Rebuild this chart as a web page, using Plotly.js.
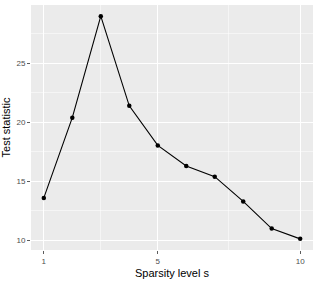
<!DOCTYPE html>
<html><head><meta charset="utf-8">
<script src="https://cdn.plot.ly/plotly-3.0.1.min.js"></script>
<style>html,body{margin:0;padding:0;background:#fff}#c{width:318px;height:282px}</style>
</head><body><div id="c"></div>
<script>
var sparsity = [1, 2, 3, 4, 5, 6, 7, 8, 9, 10];
var testStat = [13.6, 20.4, 29.0, 21.4, 18.05, 16.3, 15.4, 13.3, 11.0, 10.13];
var xTicks = [1, 5, 10];
var yTicks = [10, 15, 20, 25];

function expand(arr, f) {
  var mn = Math.min.apply(null, arr), mx = Math.max.apply(null, arr);
  var d = (mx - mn) * f;
  return [mn - d, mx + d];
}
function mids(t) { var r = []; for (var i = 0; i < t.length - 1; i++) r.push((t[i] + t[i+1]) / 2); return r; }

var xr = expand(sparsity, 0.05), yr = expand(testStat, 0.05);
var yMinor = mids(yTicks); yMinor.push(yTicks[yTicks.length-1] + 2.5);
yMinor.unshift(yTicks[0] - 2.5);

var trace = {
  x: sparsity, y: testStat, type: 'scatter', mode: 'lines+markers',
  line: {color: '#000', width: 1.1},
  marker: {color: '#000', size: 4.5},
  hoverinfo: 'none'
};
var tickFont = {family: 'Liberation Sans, Arial, sans-serif', size: 8, color: '#4D4D4D'};
var titleFont = {family: 'Liberation Sans, Arial, sans-serif', size: 11, color: '#000'};
var layout = {
  width: 318, height: 282,
  margin: {l: 31, r: 5, t: 5, b: 32},
  paper_bgcolor: '#fff', plot_bgcolor: '#EBEBEB',
  showlegend: false,
  xaxis: {
    range: xr, tickmode: 'array', tickvals: xTicks, ticktext: xTicks.map(String),
    ticks: 'outside', ticklen: 3, tickcolor: '#333', tickwidth: 0.8,
    tickfont: tickFont, showgrid: true, gridcolor: '#fff', gridwidth: 1.1,
    zeroline: false, showline: false,
    minor: {tickmode: 'array', tickvals: mids(xTicks), showgrid: true, gridcolor: '#fff', gridwidth: 0.5, ticks: ''},
    title: {text: 'Sparsity level s', font: titleFont, standoff: 4}
  },
  yaxis: {
    range: yr, tickmode: 'array', tickvals: yTicks, ticktext: yTicks.map(String),
    ticks: 'outside', ticklen: 3, tickcolor: '#333', tickwidth: 0.8,
    tickfont: tickFont, showgrid: true, gridcolor: '#fff', gridwidth: 1.1,
    zeroline: false, showline: false,
    minor: {tickmode: 'array', tickvals: yMinor, showgrid: true, gridcolor: '#fff', gridwidth: 0.5, ticks: ''},
    title: {text: 'Test statistic', font: titleFont, standoff: 4}
  }
};
Plotly.newPlot('c', [trace], layout, {staticPlot: true, displayModeBar: false});
</script></body></html>
